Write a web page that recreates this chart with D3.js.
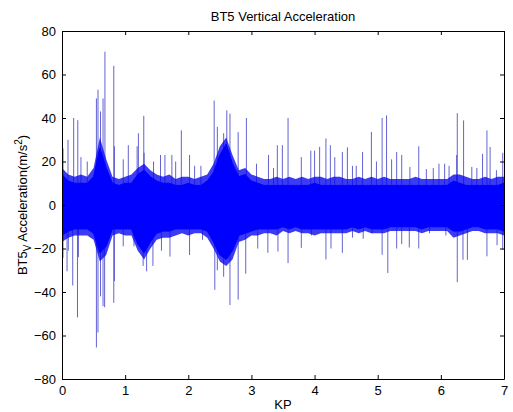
<!DOCTYPE html>
<html>
<head>
<meta charset="utf-8">
<script src="https://cdn.jsdelivr.net/npm/d3@7"></script>
<style>
  body { margin: 0; background: #fff; }
  svg { display: block; }
  text { font-family: Arial, "Liberation Sans", Helvetica, sans-serif; fill: #000; }
</style>
</head>
<body>
<div id="chart"></div>
<script>
// dense vibration band, every 0.1 KP
const bandKp = [0.0,0.1,0.2,0.3,0.4,0.5,0.6,0.7,0.8,0.9,1.0,1.1,1.2,1.3,1.4,1.5,1.6,1.7,1.8,1.9,
  2.0,2.1,2.2,2.3,2.4,2.5,2.6,2.7,2.8,2.9,3.0,3.1,3.2,3.3,3.4,3.5,3.6,3.7,3.8,3.9,
  4.0,4.1,4.2,4.3,4.4,4.5,4.6,4.7,4.8,4.9,5.0,5.1,5.2,5.3,5.4,5.5,5.6,5.7,5.8,5.9,
  6.0,6.1,6.2,6.3,6.4,6.5,6.6,6.7,6.8,6.9,7.0];
// solid core of the band
const bandUpper = [14,11,10,10,10,13,26,17,10,9,10,10,14,16,13,11,10,10,9,9,
  10,9,9,11,15,23,28,19,13,14,11,10,9,9,9,9,9,9,9,9,
  10,9,9,9,9,9,9,9,9,9,9,9,9,9,9,9,9,9,9,9,
  9,9,11,10,9,9,9,9,9,9,10];
const bandLower = [-14,-12,-11,-11,-11,-13,-22,-19,-11,-11,-11,-11,-18,-22,-17,-13,-12,-12,-11,-11,
  -11,-11,-11,-12,-17,-23,-25,-21,-14,-13,-12,-11,-11,-11,-11,-10,-11,-10,-11,-11,
  -11,-11,-11,-11,-11,-11,-10,-11,-10,-11,-11,-11,-10,-10,-10,-10,-10,-11,-10,-10,
  -10,-10,-12,-12,-11,-10,-10,-11,-11,-11,-12];
// ragged fringe of short spikes around the core
const fringeUpper = [17,14,13,14,13,17,31,21,13,12,13,14,17,19,16,14,13,14,12,13,
  13,12,13,14,19,27,31,23,16,17,14,13,12,12,13,12,13,12,13,12,
  13,13,12,13,13,12,12,13,12,13,12,13,12,12,12,12,13,12,12,12,
  12,12,14,14,13,12,12,13,12,13,13];
const fringeLower = [-17,-15,-14,-14,-14,-16,-26,-23,-14,-13,-14,-14,-21,-25,-20,-16,-15,-15,-14,-13,
  -14,-13,-13,-15,-20,-26,-28,-25,-17,-16,-14,-14,-13,-13,-14,-12,-13,-12,-13,-13,
  -14,-13,-13,-13,-13,-13,-12,-13,-12,-13,-13,-13,-12,-12,-12,-12,-12,-13,-12,-12,
  -12,-12,-15,-14,-13,-12,-12,-13,-13,-13,-14];

// individual peaks sticking out of the band: [KP, acceleration]
const peaksUp = [[0.016,26],[0.095,30],[0.185,40],[0.25,39],[0.3,22],[0.4,20],[0.545,49],[0.57,53],
  [0.61,43],[0.65,49],[0.68,70.5],[0.82,64],[0.83,27],[0.97,21],[1.05,27.5],[1.19,27],[1.21,33],
  [1.295,41],[1.3,24],[1.45,20],[1.56,23],[1.63,23],[1.74,23],[1.8,20],[1.89,34.3],[2.02,23],
  [2.1,18],[2.2,18],[2.41,48],[2.46,36],[2.56,33],[2.61,43.5],[2.66,42],[2.79,33.5],[2.92,40],
  [3.08,19],[3.27,23],[3.35,17],[3.41,27.5],[3.49,27.5],[3.58,40],[3.79,22],[3.94,25],[4.0,25],
  [4.08,26.7],[4.18,30.6],[4.25,27.5],[4.32,22],[4.44,24.4],[4.52,26.5],[4.6,18],[4.66,18],
  [4.76,24.4],[4.9,33.6],[4.98,20],[5.07,40],[5.14,41.2],[5.22,21],[5.3,24.4],[5.38,23],
  [5.51,17.5],[5.65,27],[5.77,16.5],[5.88,17],[5.97,19],[6.06,19],[6.13,18],[6.25,23],
  [6.26,42.2],[6.36,38.9],[6.49,17.5],[6.57,17],[6.66,23.5],[6.73,34.3],[6.78,26.7],[6.88,16],[6.98,24]];
const peaksDown = [[0.016,-24.3],[0.08,-30.5],[0.1,-21],[0.17,-37],[0.245,-51.7],[0.26,-24],
  [0.545,-65.5],[0.57,-58.6],[0.61,-42],[0.65,-46.5],[0.675,-47],[0.82,-45],[0.83,-35],[0.97,-19],
  [1.14,-19],[1.285,-28],[1.34,-30.5],[1.44,-28],[1.575,-21],[1.71,-23.7],[2.02,-23],[2.225,-16],
  [2.42,-39],[2.46,-30],[2.56,-33],[2.66,-46],[2.79,-43.5],[2.91,-31.6],[3.1,-20],[3.26,-22],
  [3.42,-21.4],[3.58,-26.7],[3.79,-19.7],[3.95,-14],[4.18,-25],[4.26,-20],[4.44,-22],[4.6,-15],
  [4.77,-15.5],[4.91,-13],[5.07,-22.9],[5.16,-31.3],[5.3,-20],[5.38,-18],[5.5,-19.5],[5.65,-20],
  [5.82,-13],[6.08,-14],[6.26,-35.5],[6.35,-25.2],[6.42,-25.2],[6.73,-23.6],[6.89,-18.5],[6.98,-20.6]];

const xTicks = [0,1,2,3,4,5,6,7];
const yTicks = [-80,-60,-40,-20,0,20,40,60,80];

const width = 513, height = 412;
const margin = {top: 31, right: 9, bottom: 33, left: 62};

const svg = d3.select('#chart').append('svg')
  .attr('width', width).attr('height', height);

const x = d3.scaleLinear().domain([0, 7]).range([margin.left, width - margin.right]);
const y = d3.scaleLinear().domain([-80, 80]).range([height - margin.bottom, margin.top]);

svg.append('clipPath').attr('id', 'plotclip')
  .append('rect')
  .attr('x', margin.left).attr('y', margin.top)
  .attr('width', x(7) - x(0)).attr('height', y(-80) - y(80));

const plot = svg.append('g').attr('clip-path', 'url(#plotclip)');

// peaks first (thin, antialiased look), band drawn on top
const peaks = peaksUp.concat(peaksDown);
plot.selectAll('line.peak')
  .data(peaks)
  .join('line')
  .attr('class', 'peak')
  .attr('x1', d => x(d[0])).attr('x2', d => x(d[0]))
  .attr('y1', y(0)).attr('y2', d => y(d[1]))
  .attr('stroke', '#3c3cc8')
  .attr('stroke-opacity', 0.8)
  .attr('stroke-width', 1);

const band = bandKp.map((k, i) => ({
  k: k, hi: bandUpper[i], lo: bandLower[i], fhi: fringeUpper[i], flo: fringeLower[i]
}));

plot.append('path')
  .datum(band)
  .attr('d', d3.area().x(d => x(d.k)).y0(d => y(d.flo)).y1(d => y(d.fhi)))
  .attr('fill', '#0a0af0')
  .attr('fill-opacity', 0.8);

plot.append('path')
  .datum(band)
  .attr('d', d3.area().x(d => x(d.k)).y0(d => y(d.lo)).y1(d => y(d.hi)))
  .attr('fill', '#0000ff')
  .attr('stroke', '#0000ff')
  .attr('stroke-width', 1);

// axes: matlab style box with inward ticks on all sides
const tickLen = 4;
const axisFont = '13px';

const xAxisB = svg.append('g').attr('transform', `translate(0,${y(-80)})`)
  .call(d3.axisBottom(x).tickValues(xTicks).tickFormat(d3.format('d'))
    .tickSizeInner(-tickLen).tickSizeOuter(0).tickPadding(7));
const xAxisT = svg.append('g').attr('transform', `translate(0,${y(80)})`)
  .call(d3.axisTop(x).tickValues(xTicks).tickSizeInner(-tickLen).tickSizeOuter(0).tickFormat(''));
const yAxisL = svg.append('g').attr('transform', `translate(${x(0)},0)`)
  .call(d3.axisLeft(y).tickValues(yTicks).tickSizeInner(-tickLen).tickSizeOuter(0).tickPadding(6));
const yAxisR = svg.append('g').attr('transform', `translate(${x(7)},0)`)
  .call(d3.axisRight(y).tickValues(yTicks).tickSizeInner(-tickLen).tickSizeOuter(0).tickFormat(''));

[xAxisB, xAxisT, yAxisL, yAxisR].forEach(g => {
  g.select('.domain').attr('stroke', '#000');
  g.selectAll('.tick line').attr('stroke', '#000');
  g.selectAll('.tick text').style('font-size', axisFont)
    .style('font-family', 'Arial, "Liberation Sans", sans-serif').attr('fill', '#000');
});

svg.append('text')
  .attr('x', (x(0) + x(7)) / 2).attr('y', 21)
  .attr('text-anchor', 'middle')
  .style('font-size', '13px')
  .text('BT5 Vertical Acceleration');

svg.append('text')
  .attr('x', (x(0) + x(7)) / 2).attr('y', 409)
  .attr('text-anchor', 'middle')
  .style('font-size', '13px')
  .text('KP');

const ylab = svg.append('text')
  .attr('transform', `translate(27,${(y(80) + y(-80)) / 2}) rotate(-90)`)
  .attr('text-anchor', 'middle')
  .style('font-size', '13px');
ylab.append('tspan').text('BT5');
ylab.append('tspan').attr('dy', 4).style('font-size', '10px').text('V');
ylab.append('tspan').attr('dy', -4).text(' Acceleration(m/s');
ylab.append('tspan').attr('dy', -5).style('font-size', '10px').text('2');
ylab.append('tspan').attr('dy', 5).text(')');
</script>
</body>
</html>
